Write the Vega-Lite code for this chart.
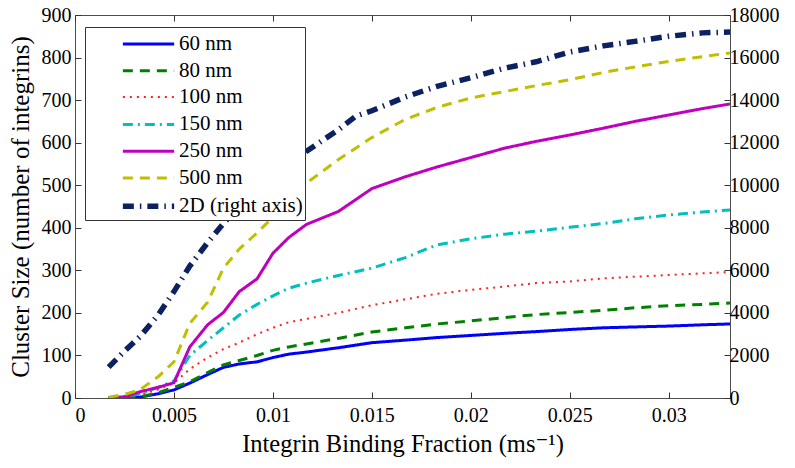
{
  "$schema": "https://vega.github.io/schema/vega-lite/v6.json",
  "width": 655,
  "height": 383,
  "autosize": {"type": "none"},
  "padding": {"left": 75, "top": 15, "right": 65, "bottom": 70},
  "background": "white",
  "config": {
    "view": {"stroke": "#4d4d4d", "strokeWidth": 1},
    "font": "Liberation Serif, Times New Roman, DejaVu Serif, serif",
    "axis": {
      "grid": false, "domain": false,
      "labelFont": "Liberation Serif, Times New Roman, DejaVu Serif, serif", "titleFont": "Liberation Serif, Times New Roman, DejaVu Serif, serif",
      "labelFontSize": 20, "titleFontSize": 24.5,
      "labelColor": "black", "titleColor": "black", "titleFontWeight": "normal",
      "tickColor": "#333", "tickSize": -6, "tickWidth": 1
    }
  },
  "data": {"values": [
    {"s":"60 nm","x":0.0017,"v":0},{"s":"60 nm","x":0.0025,"v":0},{"s":"60 nm","x":0.0033,"v":2},{"s":"60 nm","x":0.0042,"v":10},{"s":"60 nm","x":0.005,"v":19},{"s":"60 nm","x":0.0058,"v":35},{"s":"60 nm","x":0.0067,"v":55},{"s":"60 nm","x":0.0075,"v":72},{"s":"60 nm","x":0.0083,"v":80},{"s":"60 nm","x":0.0092,"v":85},{"s":"60 nm","x":0.01,"v":95},{"s":"60 nm","x":0.0108,"v":103},{"s":"60 nm","x":0.0117,"v":108},{"s":"60 nm","x":0.0133,"v":118},{"s":"60 nm","x":0.015,"v":130},{"s":"60 nm","x":0.0167,"v":136},{"s":"60 nm","x":0.0183,"v":142},{"s":"60 nm","x":0.02,"v":147},{"s":"60 nm","x":0.0217,"v":152},{"s":"60 nm","x":0.0233,"v":156},{"s":"60 nm","x":0.025,"v":161},{"s":"60 nm","x":0.0267,"v":165},{"s":"60 nm","x":0.0283,"v":167},{"s":"60 nm","x":0.03,"v":169},{"s":"60 nm","x":0.0317,"v":172},{"s":"60 nm","x":0.0331,"v":174},
    {"s":"80 nm","x":0.0017,"v":0},{"s":"80 nm","x":0.0025,"v":0},{"s":"80 nm","x":0.0033,"v":3},{"s":"80 nm","x":0.0042,"v":12},{"s":"80 nm","x":0.005,"v":25},{"s":"80 nm","x":0.0058,"v":38},{"s":"80 nm","x":0.0067,"v":60},{"s":"80 nm","x":0.0075,"v":78},{"s":"80 nm","x":0.0083,"v":88},{"s":"80 nm","x":0.0092,"v":100},{"s":"80 nm","x":0.01,"v":112},{"s":"80 nm","x":0.0108,"v":120},{"s":"80 nm","x":0.0117,"v":127},{"s":"80 nm","x":0.0133,"v":140},{"s":"80 nm","x":0.015,"v":155},{"s":"80 nm","x":0.0167,"v":165},{"s":"80 nm","x":0.0183,"v":174},{"s":"80 nm","x":0.02,"v":181},{"s":"80 nm","x":0.0217,"v":189},{"s":"80 nm","x":0.0233,"v":196},{"s":"80 nm","x":0.025,"v":201},{"s":"80 nm","x":0.0267,"v":206},{"s":"80 nm","x":0.0283,"v":212},{"s":"80 nm","x":0.03,"v":217},{"s":"80 nm","x":0.0317,"v":220},{"s":"80 nm","x":0.0331,"v":223},
    {"s":"100 nm","x":0.0017,"v":0},{"s":"100 nm","x":0.0025,"v":2},{"s":"100 nm","x":0.0033,"v":8},{"s":"100 nm","x":0.0042,"v":20},{"s":"100 nm","x":0.005,"v":35},{"s":"100 nm","x":0.0058,"v":68},{"s":"100 nm","x":0.0067,"v":95},{"s":"100 nm","x":0.0075,"v":115},{"s":"100 nm","x":0.0083,"v":130},{"s":"100 nm","x":0.0092,"v":150},{"s":"100 nm","x":0.01,"v":165},{"s":"100 nm","x":0.0108,"v":178},{"s":"100 nm","x":0.0117,"v":186},{"s":"100 nm","x":0.0133,"v":200},{"s":"100 nm","x":0.015,"v":218},{"s":"100 nm","x":0.0167,"v":232},{"s":"100 nm","x":0.0183,"v":245},{"s":"100 nm","x":0.02,"v":254},{"s":"100 nm","x":0.0217,"v":262},{"s":"100 nm","x":0.0233,"v":270},{"s":"100 nm","x":0.025,"v":274},{"s":"100 nm","x":0.0267,"v":281},{"s":"100 nm","x":0.0283,"v":285},{"s":"100 nm","x":0.03,"v":289},{"s":"100 nm","x":0.0317,"v":293},{"s":"100 nm","x":0.0331,"v":296},
    {"s":"150 nm","x":0.0017,"v":0},{"s":"150 nm","x":0.0025,"v":3},{"s":"150 nm","x":0.0033,"v":10},{"s":"150 nm","x":0.0042,"v":25},{"s":"150 nm","x":0.005,"v":40},{"s":"150 nm","x":0.0058,"v":100},{"s":"150 nm","x":0.0067,"v":135},{"s":"150 nm","x":0.0075,"v":165},{"s":"150 nm","x":0.0083,"v":195},{"s":"150 nm","x":0.0092,"v":220},{"s":"150 nm","x":0.01,"v":240},{"s":"150 nm","x":0.0108,"v":258},{"s":"150 nm","x":0.0117,"v":270},{"s":"150 nm","x":0.0133,"v":288},{"s":"150 nm","x":0.015,"v":305},{"s":"150 nm","x":0.0167,"v":330},{"s":"150 nm","x":0.0183,"v":360},{"s":"150 nm","x":0.02,"v":374},{"s":"150 nm","x":0.0217,"v":385},{"s":"150 nm","x":0.0233,"v":392},{"s":"150 nm","x":0.025,"v":401},{"s":"150 nm","x":0.0267,"v":410},{"s":"150 nm","x":0.0283,"v":421},{"s":"150 nm","x":0.03,"v":430},{"s":"150 nm","x":0.0317,"v":437},{"s":"150 nm","x":0.0331,"v":442},
    {"s":"250 nm","x":0.0017,"v":0},{"s":"250 nm","x":0.0025,"v":3},{"s":"250 nm","x":0.0033,"v":15},{"s":"250 nm","x":0.0042,"v":25},{"s":"250 nm","x":0.005,"v":36},{"s":"250 nm","x":0.0058,"v":120},{"s":"250 nm","x":0.0067,"v":172},{"s":"250 nm","x":0.0075,"v":201},{"s":"250 nm","x":0.0083,"v":250},{"s":"250 nm","x":0.0092,"v":280},{"s":"250 nm","x":0.01,"v":340},{"s":"250 nm","x":0.0108,"v":377},{"s":"250 nm","x":0.0117,"v":408},{"s":"250 nm","x":0.0133,"v":438},{"s":"250 nm","x":0.015,"v":492},{"s":"250 nm","x":0.0167,"v":520},{"s":"250 nm","x":0.0183,"v":543},{"s":"250 nm","x":0.02,"v":565},{"s":"250 nm","x":0.0217,"v":587},{"s":"250 nm","x":0.0233,"v":603},{"s":"250 nm","x":0.025,"v":618},{"s":"250 nm","x":0.0267,"v":634},{"s":"250 nm","x":0.0283,"v":650},{"s":"250 nm","x":0.03,"v":665},{"s":"250 nm","x":0.0317,"v":680},{"s":"250 nm","x":0.0331,"v":691},
    {"s":"500 nm","x":0.0017,"v":2},{"s":"500 nm","x":0.0025,"v":8},{"s":"500 nm","x":0.0033,"v":20},{"s":"500 nm","x":0.0042,"v":50},{"s":"500 nm","x":0.005,"v":85},{"s":"500 nm","x":0.0058,"v":175},{"s":"500 nm","x":0.0067,"v":225},{"s":"500 nm","x":0.0075,"v":305},{"s":"500 nm","x":0.0083,"v":350},{"s":"500 nm","x":0.0092,"v":388},{"s":"500 nm","x":0.01,"v":425},{"s":"500 nm","x":0.0108,"v":462},{"s":"500 nm","x":0.0117,"v":505},{"s":"500 nm","x":0.0133,"v":560},{"s":"500 nm","x":0.015,"v":612},{"s":"500 nm","x":0.0167,"v":655},{"s":"500 nm","x":0.0183,"v":683},{"s":"500 nm","x":0.02,"v":705},{"s":"500 nm","x":0.0217,"v":720},{"s":"500 nm","x":0.0233,"v":734},{"s":"500 nm","x":0.025,"v":748},{"s":"500 nm","x":0.0267,"v":765},{"s":"500 nm","x":0.0283,"v":778},{"s":"500 nm","x":0.03,"v":791},{"s":"500 nm","x":0.0317,"v":802},{"s":"500 nm","x":0.0331,"v":811},
    {"s":"2D (right axis)","x":0.0017,"v":1450},{"s":"2D (right axis)","x":0.0025,"v":2200},{"s":"2D (right axis)","x":0.0033,"v":2900},{"s":"2D (right axis)","x":0.0042,"v":3900},{"s":"2D (right axis)","x":0.005,"v":5000},{"s":"2D (right axis)","x":0.0058,"v":6200},{"s":"2D (right axis)","x":0.0067,"v":7300},{"s":"2D (right axis)","x":0.0075,"v":8200},{"s":"2D (right axis)","x":0.0083,"v":9000},{"s":"2D (right axis)","x":0.0092,"v":9800},{"s":"2D (right axis)","x":0.01,"v":10500},{"s":"2D (right axis)","x":0.0108,"v":11000},{"s":"2D (right axis)","x":0.0117,"v":11600},{"s":"2D (right axis)","x":0.0133,"v":12600},{"s":"2D (right axis)","x":0.0142,"v":13250},{"s":"2D (right axis)","x":0.015,"v":13500},{"s":"2D (right axis)","x":0.0167,"v":14150},{"s":"2D (right axis)","x":0.0183,"v":14650},{"s":"2D (right axis)","x":0.02,"v":15050},{"s":"2D (right axis)","x":0.0217,"v":15500},{"s":"2D (right axis)","x":0.0233,"v":15800},{"s":"2D (right axis)","x":0.025,"v":16260},{"s":"2D (right axis)","x":0.0267,"v":16550},{"s":"2D (right axis)","x":0.0283,"v":16760},{"s":"2D (right axis)","x":0.03,"v":17000},{"s":"2D (right axis)","x":0.0317,"v":17160},{"s":"2D (right axis)","x":0.0331,"v":17200}
  ]},
  "layer": [
    {
      "transform": [{"filter": "datum.s !== '2D (right axis)'"}],
      "mark": {"type": "line", "clip": true},
      "encoding": {
        "x": {"field": "x", "type": "quantitative",
          "scale": {"domain": [0, 0.0331], "nice": false, "zero": false},
          "axis": {"orient": "bottom", "values": [0, 0.005, 0.01, 0.015, 0.02, 0.025, 0.03],
            "labelExpr": "'' + datum.value", "title": "Integrin Binding Fraction (ms⁻¹)",
            "labelPadding": 13, "titlePadding": 7}},
        "y": {"field": "v", "type": "quantitative",
          "scale": {"domain": [0, 900], "nice": false},
          "axis": {"orient": "left", "values": [0,100,200,300,400,500,600,700,800,900],
            "title": "Cluster Size (number of integrins)", "titleFontSize": 25, "labelPadding": 10, "titlePadding": 8}},
        "color": {"field": "s", "type": "nominal",
          "scale": {"domain": ["60 nm","80 nm","100 nm","150 nm","250 nm","500 nm","2D (right axis)"],
                    "range": ["#0000ff","#008000","#ff2020","#00bfbf","#bf00bf","#bfbf00","#0b2161"]},
          "legend": {"title": null, "orient": "none", "legendX": 10, "legendY": 12,
            "fillColor": "white", "strokeColor": "#333", "padding": 2,
            "labelFont": "Liberation Serif, Times New Roman, DejaVu Serif, serif", "labelFontSize": 21, "labelColor": "black",
            "symbolType": "M-1.9,0H1.9", "symbolSize": 729, "rowPadding": 1.8,
            "symbolOffset": 45, "labelOffset": 14}},
        "strokeDash": {"field": "s", "type": "nominal",
          "scale": {"domain": ["60 nm","80 nm","100 nm","150 nm","250 nm","500 nm","2D (right axis)"],
                    "range": [[1,0],[10,7],[2,5],[10,5,2,5],[1,0],[10,7],[11,6,1.5,6]]}},
        "strokeWidth": {"field": "s", "type": "nominal",
          "scale": {"type": "ordinal", "domain": ["60 nm","80 nm","100 nm","150 nm","250 nm","500 nm","2D (right axis)"],
                    "range": [3,3,2,3,3,3,5.5]}},
        "order": {"field": "x", "type": "quantitative"}
      }
    },
    {
      "transform": [{"filter": "datum.s === '2D (right axis)'"}],
      "mark": {"type": "line", "clip": true},
      "encoding": {
        "x": {"field": "x", "type": "quantitative",
          "scale": {"domain": [0, 0.0331], "nice": false, "zero": false},
          "axis": {"orient": "top", "values": [0, 0.005, 0.01, 0.015, 0.02, 0.025, 0.03], "labels": false, "title": null}},
        "y": {"field": "v", "type": "quantitative",
          "scale": {"domain": [0, 18000], "nice": false},
          "axis": {"orient": "right", "values": [0,2000,4000,6000,8000,10000,12000,14000,16000,18000],
            "format": "d", "title": null, "labelPadding": 5}},
        "color": {"field": "s", "type": "nominal",
          "scale": {"domain": ["60 nm","80 nm","100 nm","150 nm","250 nm","500 nm","2D (right axis)"],
                    "range": ["#0000ff","#008000","#ff2020","#00bfbf","#bf00bf","#bfbf00","#0b2161"]}},
        "strokeDash": {"field": "s", "type": "nominal",
          "scale": {"domain": ["60 nm","80 nm","100 nm","150 nm","250 nm","500 nm","2D (right axis)"],
                    "range": [[1,0],[10,7],[2,5],[10,5,2,5],[1,0],[10,7],[11,6,1.5,6]]}},
        "strokeWidth": {"field": "s", "type": "nominal",
          "scale": {"type": "ordinal", "domain": ["60 nm","80 nm","100 nm","150 nm","250 nm","500 nm","2D (right axis)"],
                    "range": [3,3,2,3,3,3,5.5]}},
        "order": {"field": "x", "type": "quantitative"}
      }
    }
  ],
  "resolve": {"scale": {"y": "independent"}, "axis": {"x": "independent", "y": "independent"}}
}
